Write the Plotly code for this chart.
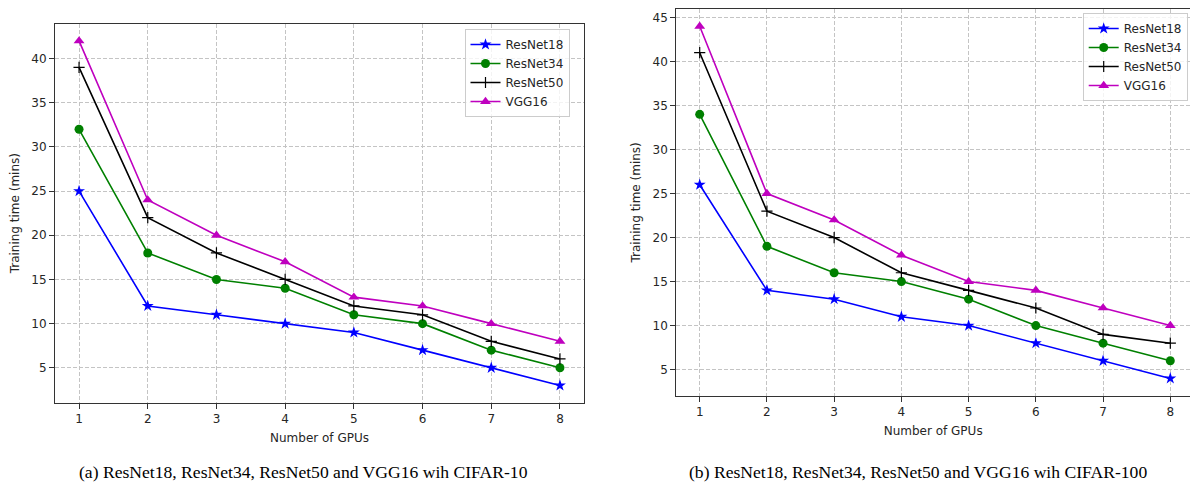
import plotly.graph_objects as go

gpus = [1, 2, 3, 4, 5, 6, 7, 8]
series_names = ["ResNet18", "ResNet34", "ResNet50", "VGG16"]

cifar10_resnet18 = [25, 12, 11, 10, 9, 7, 5, 3]
cifar10_resnet34 = [32, 18, 15, 14, 11, 10, 7, 5]
cifar10_resnet50 = [39, 22, 18, 15, 12, 11, 8, 6]
cifar10_vgg16 = [42, 24, 20, 17, 13, 12, 10, 8]

cifar100_resnet18 = [26, 14, 13, 11, 10, 8, 6, 4]
cifar100_resnet34 = [34, 19, 16, 15, 13, 10, 8, 6]
cifar100_resnet50 = [41, 23, 20, 16, 14, 12, 9, 8]
cifar100_vgg16 = [44, 25, 22, 18, 15, 14, 12, 10]

caption_a = "(a) ResNet18, ResNet34, ResNet50 and VGG16 wih CIFAR-10"
caption_b = "(b) ResNet18, ResNet34, ResNet50 and VGG16 wih CIFAR-100"

W, H = 1190, 486
styles = [
    dict(color="#0000ff", symbol="star", size=9, lw=0),
    dict(color="#008000", symbol="circle", size=9, lw=0),
    dict(color="#000000", symbol="cross-thin", size=8, lw=1.2),
    dict(color="#bf00bf", symbol="triangle-up", size=9.5, lw=0),
]

fig = go.Figure()

def add_set(data, xa, ya, legend):
    for name, ys, st in zip(series_names, data, styles):
        fig.add_trace(go.Scatter(
            x=gpus, y=ys, name=name, mode="lines+markers",
            xaxis=xa, yaxis=ya, legend=legend,
            line=dict(color=st["color"], width=1.6),
            marker=dict(symbol=st["symbol"], size=st["size"], color=st["color"],
                        line=dict(color=st["color"], width=st["lw"])),
        ))

add_set([cifar10_resnet18, cifar10_resnet34, cifar10_resnet50, cifar10_vgg16], "x", "y", "legend")
add_set([cifar100_resnet18, cifar100_resnet34, cifar100_resnet50, cifar100_vgg16], "x2", "y2", "legend2")

font = dict(family="DejaVu Sans", size=12, color="#262626")
axis_common = dict(
    showgrid=True, gridcolor="#c4c4c4", griddash="4px,2px", gridwidth=0.8,
    showline=True, linecolor="#333333", linewidth=1,
    ticks="outside", ticklen=5, tickcolor="#333333", tickwidth=1,
    zeroline=False, tickfont=font,
)

fig.update_layout(
    width=W, height=H,
    margin=dict(l=0, r=0, t=0, b=0),
    paper_bgcolor="white", plot_bgcolor="white",
    font=font,
    xaxis=dict(domain=[55 / W, 584 / W], range=[0.65, 8.35], dtick=1, anchor="y",
               mirror=True, title=dict(text="Number of GPUs", font=font, standoff=8), **axis_common),
    yaxis=dict(domain=[1 - 402.7 / H, 1 - 23.7 / H], range=[1.05, 43.95], dtick=5, tick0=0,
               anchor="x", mirror=True,
               title=dict(text="Training time (mins)", font=font, standoff=9), **axis_common),
    xaxis2=dict(domain=[676.3 / W, 1.0], range=[0.652, 8.293], dtick=1, anchor="y2",
                mirror=True, title=dict(text="Number of GPUs", font=font, standoff=8), **axis_common),
    yaxis2=dict(domain=[1 - 396 / H, 1 - 8.7 / H], range=[2, 46], dtick=5, tick0=0,
                anchor="x2", mirror=False,
                title=dict(text="Training time (mins)", font=font, standoff=9), **axis_common),
    legend=dict(x=569.5 / W, y=1 - 29 / H, xanchor="right", yanchor="top",
                bgcolor="rgba(255,255,255,0.8)", bordercolor="#cccccc", borderwidth=1,
                font=font, itemwidth=30, tracegroupgap=0),
    legend2=dict(x=1187.7 / W, y=1 - 13 / H, xanchor="right", yanchor="top",
                 bgcolor="rgba(255,255,255,0.8)", bordercolor="#cccccc", borderwidth=1,
                 font=font, itemwidth=30, tracegroupgap=0),
    annotations=[
        dict(text=caption_a, x=303.5 / W, y=1 - 472 / H, xref="paper", yref="paper",
             xanchor="center", yanchor="middle", showarrow=False,
             font=dict(family="Liberation Serif", size=17.6, color="#000000")),
        dict(text=caption_b, x=918 / W, y=1 - 472 / H, xref="paper", yref="paper",
             xanchor="center", yanchor="middle", showarrow=False,
             font=dict(family="Liberation Serif", size=17.6, color="#000000")),
    ],
)

fig.write_html("out.html", config={"displayModeBar": False},
               post_script="document.body.style.margin='0';document.body.style.overflow='hidden';")
